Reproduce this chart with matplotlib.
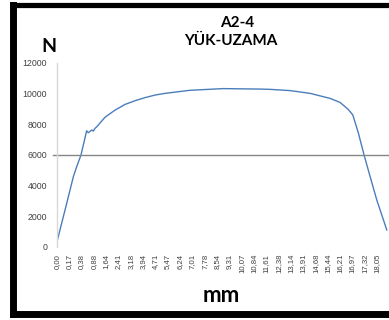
import matplotlib.pyplot as plt
from matplotlib.lines import Line2D

# tick labels of the category (extension, mm) axis
x_labels = ["0,00", "0,17", "0,38", "0,88", "1,64", "2,41", "3,18", "3,94", "4,71",
            "5,47", "6,24", "7,01", "7,78", "8,54", "9,31", "10,07", "10,84", "11,61",
            "12,38", "13,14", "13,91", "14,68", "15,44", "16,21", "16,97", "17,32", "18,05"]

# position of each sample along the category axis (in label steps) and load in N
sample_pos = [0.0, 0.79, 1.33, 1.60, 1.95, 2.41, 2.54, 2.82, 2.95, 3.09, 3.23,
              3.90, 4.72, 5.53, 6.34, 7.15, 7.97, 8.78, 10.81, 13.5, 16.5, 17.32,
              18.94, 20.57, 22.2, 23.0, 23.66, 24.04, 24.5, 24.96, 25.45, 25.99,
              26.53, 26.80]
load = [350, 2850, 4590, 5240, 6000, 7580, 7450, 7630, 7560, 7740, 7840,
        8460, 8930, 9300, 9540, 9740, 9910, 10020, 10220, 10330, 10300, 10280,
        10200, 10020, 9690, 9430, 8980, 8610, 7410, 5980, 4580, 3060,
        1760, 1110]

y_ticks = [0, 2000, 4000, 6000, 8000, 10000, 12000]
ref_load = 6000

fig = plt.figure(figsize=(3.89, 3.2), dpi=100)
ax = fig.add_axes([57 / 389, 73 / 320, 332 / 389, 184 / 320])

ax.plot(sample_pos, load, color="#4A7EBB", linewidth=1.0)
ax.plot([-0.33, 27], [ref_load, ref_load], color="#868686", linewidth=1.0, clip_on=False)

ax.set_xlim(0, 26.98)
ax.set_ylim(0, 12000)
ax.set_yticks(y_ticks)
ax.set_yticklabels([str(v) for v in y_ticks], fontsize=6.3, color="#404040",
                   family="Liberation Sans")
ax.set_xticks(range(len(x_labels)))
ax.set_xticklabels(x_labels, rotation=90, fontsize=5.6, color="#404040",
                   family="Liberation Sans", va="top")
ax.tick_params(axis="y", length=0, pad=7)
ax.tick_params(axis="x", length=0, pad=5)

for side in ["top", "right", "bottom"]:
    ax.spines[side].set_visible(False)
ax.spines["left"].set_color("#D9D9D9")
ax.spines["left"].set_linewidth(1.0)

fig.text(237 / 389, 1 - 23 / 320, "A2-4", ha="center", va="center",
         fontsize=11, fontweight="bold", family="Lato")
fig.text(231 / 389, 1 - 41 / 320, "YÜK-UZAMA", ha="center", va="center",
         fontsize=11, fontweight="bold", family="Lato")
fig.text(49 / 389, 1 - 47 / 320, "N", ha="center", va="center",
         fontsize=14, fontweight="bold", family="Lato")
fig.text(221 / 389, 1 - 296 / 320, "mm", ha="center", va="center",
         fontsize=16, fontweight="bold", family="Lato")

# thick black frame around the chart
w = 5.0
fig.add_artist(Line2D([12.5 / 389, 12.5 / 389], [1 - 4.5 / 320, 1 - 314 / 320],
                      transform=fig.transFigure, color="black", linewidth=w,
                      solid_capstyle="projecting"))
fig.add_artist(Line2D([12.5 / 389, 1.01], [1 - 4.5 / 320, 1 - 4.5 / 320],
                      transform=fig.transFigure, color="black", linewidth=w * 0.75))
fig.add_artist(Line2D([12.5 / 389, 1.01], [1 - 314 / 320, 1 - 314 / 320],
                      transform=fig.transFigure, color="black", linewidth=w))

fig.savefig("out.png", dpi=100)
